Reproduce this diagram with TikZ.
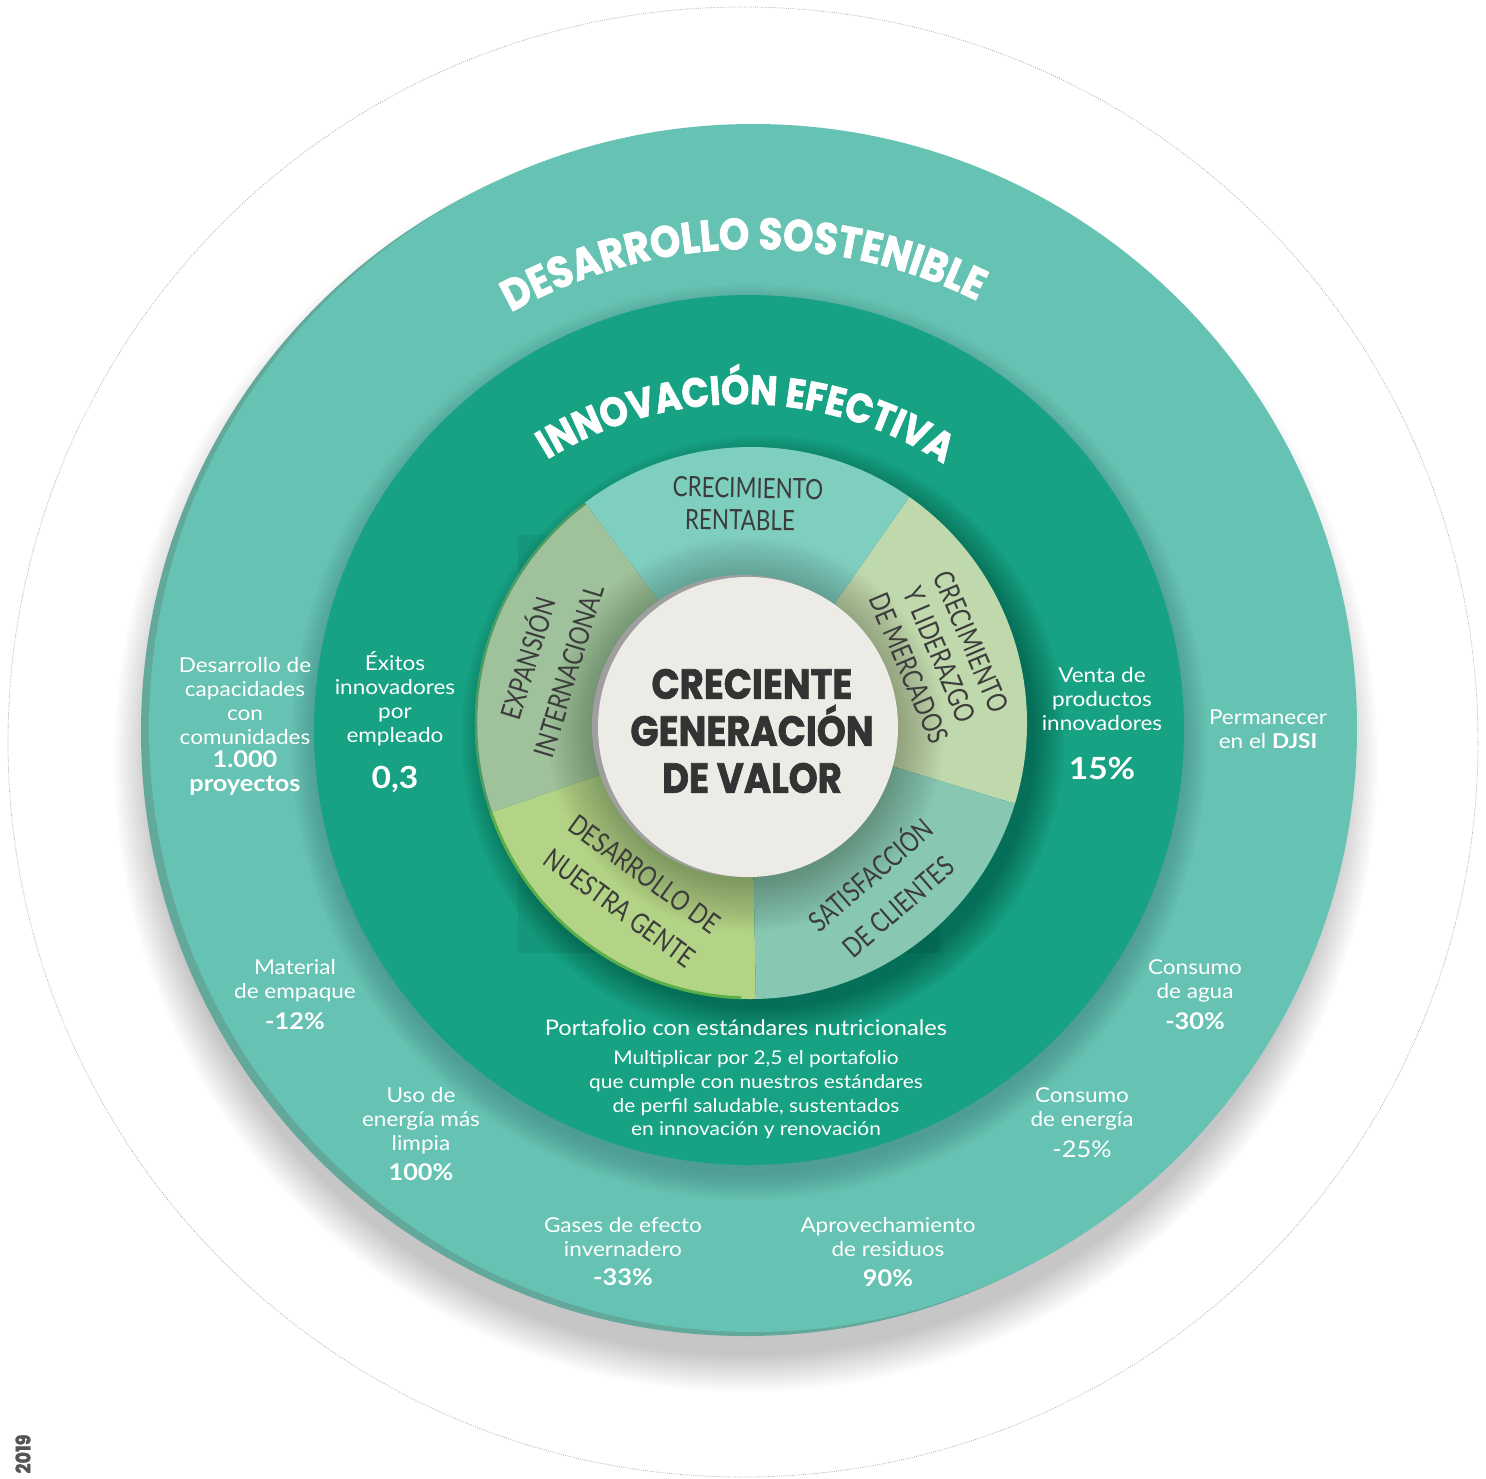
\documentclass[tikz,border=0pt]{standalone}
\usepackage{fontspec}
\setmainfont{Lato}[FakeStretch=1.1]
\newfontfamily\heavy{Poppins}[FakeStretch=0.88,BoldFeatures={FakeBold=1.6}]
\newfontfamily\segfont{Lato}[FakeStretch=0.8]
\usetikzlibrary{decorations.text}
\definecolor{outerc}{HTML}{66C2B2}
\definecolor{rimc}{HTML}{62A99B}
\definecolor{midc}{HTML}{16A283}
\definecolor{segA}{HTML}{7FCFC0}
\definecolor{segB}{HTML}{C0D9AC}
\definecolor{segC}{HTML}{88C8B2}
\definecolor{segD}{HTML}{B3D486}
\definecolor{segE}{HTML}{9FC19B}
\definecolor{corec}{HTML}{ECEBE5}
\definecolor{labc}{HTML}{3C3C3C}
\definecolor{coretext}{HTML}{333333}
\definecolor{rimE}{HTML}{4C9D63}
\definecolor{rimD}{HTML}{5BAF48}
\definecolor{yearc}{HTML}{555555}
\begin{document}
\begin{tikzpicture}[x=1pt,y=1pt,
  body/.style={text=white,align=center,font=\fontsize{20.5}{24}\selectfont,inner sep=0pt},
  valb/.style={text=white,align=center,font=\bfseries\fontsize{23}{24.5}\selectfont,inner sep=0pt},
  valr/.style={text=white,align=center,font=\fontsize{23}{24}\selectfont,inner sep=0pt},
  bigval/.style={text=white,font=\bfseries\fontsize{30.5}{31}\selectfont,inner sep=0pt},
  seglab/.style={text=labc,align=center,inner sep=0pt},
]
\fill[white] (0,0) rectangle (1486,-1478);
\useasboundingbox (0,0) rectangle (1486,-1478);
% dotted outer circle
\draw[gray!65,line width=0.8pt,dash pattern=on 0.8pt off 1.4pt] (743,-742) circle[radius=735];
% drop shadow of outer disk
\foreach \k in {0,2,...,36}{\fill[black,opacity=0.013] (746,-760) circle[radius=596+\k];}
% outer disk
\fill[rimc] (745,-732) circle[radius=604];
\fill[outerc] (753,-728) circle[radius=604];
% shadow of middle disk
\foreach \k in {0,2,...,26}{\fill[black,opacity=0.012] (749,-742) circle[radius=432+\k];}
\fill[midc] (749,-730) circle[radius=435];
\fill[midc!93!black] (518,-535) rectangle (940,-953);
% shadow of inner ring
\foreach \k in {0,2,...,30}{\fill[black,opacity=0.018] (763,-737) circle[radius=272+\k];}
% segments
\coordinate (C) at (751,-723);
\fill[segB] (C) -- ++(-17:276) arc[start angle=-17,end angle=55,radius=276] -- cycle;
\fill[segA] (C) -- ++(55:276) arc[start angle=55,end angle=127,radius=276] -- cycle;
\fill[segE] (C) -- ++(127:276) arc[start angle=127,end angle=199,radius=276] -- cycle;
\fill[segD] (C) -- ++(199:276) arc[start angle=199,end angle=271,radius=276] -- cycle;
\fill[segC] (C) -- ++(271:276) arc[start angle=271,end angle=343,radius=276] -- cycle;
\draw[line width=2.5pt,rimE] ([shift={(127:275)}]C) arc[start angle=127,end angle=199,radius=275];
\draw[line width=3pt,rimD] ([shift={(199:275)}]C) arc[start angle=199,end angle=268,radius=275];
% shadow of core
\foreach \k in {0,3,...,48}{\fill[black,opacity=0.014] (746,-734) circle[radius=150+\k];}
\fill[gray!75] (743,-726) circle[radius=151];
\fill[corec] (748,-727) circle[radius=150];
% curved titles
\path[decorate,decoration={text along path,text align=center,text color=white,
  text={|\heavy\bfseries\fontsize{44}{44}\selectfont|DESARROLLO SOSTENIBLE}}]
  ([shift={(141.4:501)}]755,-750) arc[start angle=141.4,end angle=41.4,radius=501];
\path[decorate,decoration={text along path,text align=center,text color=white,
  text={|\heavy\bfseries\fontsize{41}{41}\selectfont|INNOVACIÓN EFECTIVA}}]
  ([shift={(139.35:369)}]742,-773) arc[start angle=139.35,end angle=39.35,radius=369];
% core text
\node[text=coretext,align=center,font=\heavy\bfseries\fontsize{42}{47}\selectfont,inner sep=0pt] (core) at (752,-731) {CRECIENTE\\GENERACIÓN\\DE VALOR};
% segment labels
\node[seglab,rotate=-1,font=\segfont\fontsize{28}{32}\selectfont] (s1a) at (748,-488) {CRECIMIENTO};
\node[seglab,rotate=-1,font=\segfont\fontsize{28}{32}\selectfont] (s1b) at (740,-520) {RENTABLE};
\node[seglab,rotate=-67,font=\segfont\fontsize{28}{34}\selectfont] (s2) at (940,-655) {CRECIMIENTO\\Y LIDERAZGO\\DE MERCADOS};
\node[seglab,rotate=41,font=\segfont\fontsize{28}{42}\selectfont] (s3) at (883,-889) {SATISFACCIÓN\\DE CLIENTES};
\node[seglab,rotate=-36,font=\segfont\fontsize{28}{42}\selectfont] (s4) at (632,-891) {DESARROLLO DE\\NUESTRA GENTE};
\node[seglab,rotate=73,font=\segfont\fontsize{28}{42}\selectfont] (s5) at (546,-664) {EXPANSIÓN\\INTERNACIONAL};
% outer texts
\node[body] (n1) at (245,-701) {Desarrollo de\\capacidades\\con\\comunidades};
\node[valb] (n1v) at (245,-773) {1.000\\proyectos};
\node[body] (n2) at (395,-699) {Éxitos\\innovadores\\por\\empleado};
\node[bigval] (n2v) at (395,-780) {0,3};
\node[body] (n3) at (1102,-699) {Venta de\\productos\\innovadores};
\node[bigval] (n3v) at (1102,-768) {15\%};
\node[body] (n4) at (1268,-729) {Permanecer\\en el \textbf{DJSI}};
\node[body] (n5) at (295,-981) {Material\\de empaque};
\node[valb] (n5v) at (295,-1021) {-12\%};
\node[body] (n6) at (421,-1121) {Uso de\\energía más\\limpia};
\node[valb] (n6v) at (421,-1172) {100\%};
\node[body] (n7) at (623,-1237) {Gases de efecto\\invernadero};
\node[valb] (n7v) at (623,-1277) {-33\%};
\node[body] (n8) at (888,-1237) {Aprovechamiento\\de residuos};
\node[valb] (n8v) at (888,-1278) {90\%};
\node[body] (n9) at (1082,-1109) {Consumo\\de energía};
\node[valr] (n9v) at (1082,-1149) {-25\%};
\node[body] (n10) at (1195,-981) {Consumo\\de agua};
\node[valb] (n10v) at (1195,-1021) {-30\%};
\node[text=white,font=\fontsize{21.5}{26}\selectfont,inner sep=0pt] (n11) at (746,-1028) {Portafolio con estándares nutricionales};
\node[text=white,align=center,font=\fontsize{19}{23.7}\selectfont,inner sep=0pt] (n12) at (756,-1095) {Multiplicar por 2,5 el portafolio\\que cumple con nuestros estándares\\de perfil saludable, sustentados\\en innovación y renovación};
\node[rotate=90,text=yearc,font=\heavy\bfseries\fontsize{20}{20}\selectfont,inner sep=0pt] (yr) at (23,-1454) {2019};
\end{tikzpicture}
\end{document}
